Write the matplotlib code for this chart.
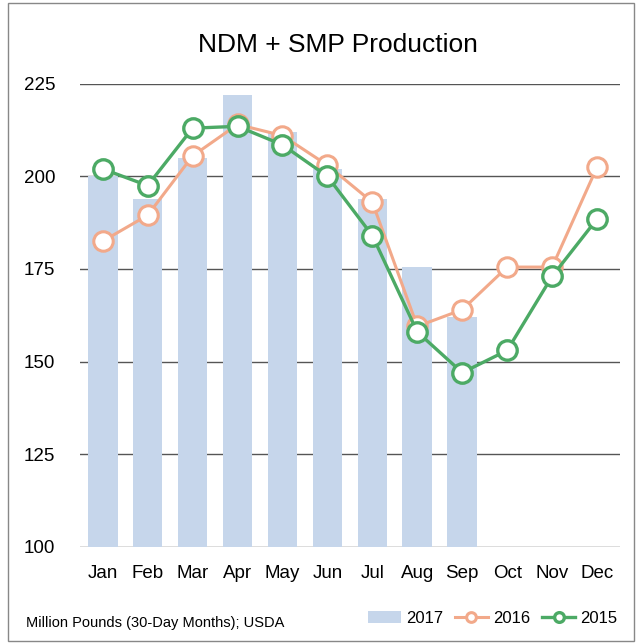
import matplotlib.pyplot as plt
import numpy as np
from matplotlib.patches import Rectangle

plt.rcParams['font.family'] = ['Liberation Sans', 'DejaVu Sans']

# Meses
meses = ['Jan', 'Feb', 'Mar', 'Apr', 'May', 'Jun', 'Jul', 'Aug', 'Sep', 'Oct', 'Nov', 'Dec']

# Produção (milhões de libras)
prod_2017 = [200, 194, 205, 222, 212, 202, 194, 175.5, 162]
prod_2016 = [182.5, 189.5, 205.5, 214, 211, 203, 193, 159.5, 164, 175.5, 175.5, 202.5]
prod_2015 = [202, 197.5, 213, 213.5, 208.5, 200, 184, 158, 147, 153, 173, 188.5]

ticks_y = [100, 125, 150, 175, 200, 225]

cor_barra = '#c6d6eb'
cor_2016 = '#f2a98a'
cor_2015 = '#4caa65'

fig = plt.figure(figsize=(6.42, 6.44), dpi=100)
ax = fig.add_axes([0.125, 0.151, 0.84, 0.719])

x = np.arange(len(meses))
b = ax.bar(x[:len(prod_2017)], prod_2017, width=0.66, color=cor_barra, label='2017', zorder=2)
l1, = ax.plot(x, prod_2016, color=cor_2016, lw=2.2, marker='o', ms=14, mfc='white',
              mec=cor_2016, mew=2.2, label='2016', zorder=3)
l2, = ax.plot(x, prod_2015, color=cor_2015, lw=2.4, marker='o', ms=14, mfc='white',
              mec=cor_2015, mew=2.4, label='2015', zorder=4)

ax.set_ylim(100, 225)
ax.set_xlim(-0.5, 11.5)
ax.set_yticks(ticks_y)
ax.set_xticks(x)
ax.set_xticklabels(meses)
ax.tick_params(length=0, labelsize=13.5, pad=13)
ax.tick_params(axis='y', pad=18)
ax.grid(axis='y', color='#555555', lw=1.0, zorder=1)
for s in ax.spines.values():
    s.set_visible(False)

fig.text(0.527, 0.93, 'NDM + SMP Production', ha='center', va='center', fontsize=19)
fig.text(0.04, 0.033, 'Million Pounds (30-Day Months); USDA', fontsize=10.5, va='center')

leg = fig.legend([b, l1, l2], ['2017', '2016', '2015'], loc='center right',
                 bbox_to_anchor=(0.985, 0.04), ncol=3, frameon=False,
                 fontsize=12, handlelength=2.0, handletextpad=0.3, columnspacing=0.7,
                 markerscale=0.5)

fig.patches.append(Rectangle((0.012, 0.005), 0.975, 0.99, transform=fig.transFigure,
                             fill=False, edgecolor='#888888', lw=1.0))

fig.savefig('out.png', dpi=100)
